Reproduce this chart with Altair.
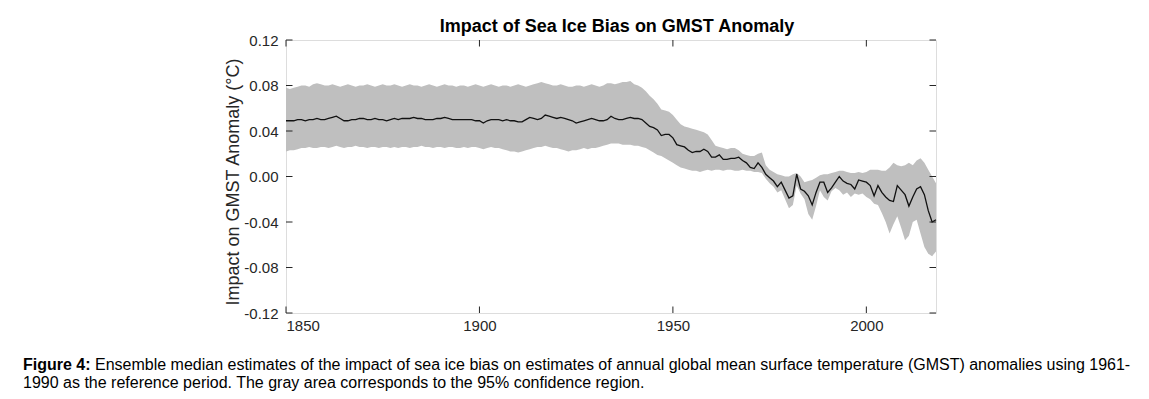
import altair as alt
import pandas as pd

years = list(range(1850, 2019))

median = [
    0.049, 0.049, 0.049, 0.050, 0.050, 0.049, 0.050, 0.050, 0.051, 0.050,
    0.050, 0.051, 0.052, 0.053, 0.051, 0.049, 0.049, 0.050, 0.050, 0.051,
    0.051, 0.050, 0.050, 0.051, 0.050, 0.050, 0.049, 0.050, 0.051, 0.050,
    0.051, 0.051, 0.051, 0.052, 0.051, 0.051, 0.050, 0.050, 0.050, 0.051,
    0.051, 0.052, 0.051, 0.050, 0.050, 0.050, 0.050, 0.050, 0.050, 0.049,
    0.049, 0.047, 0.049, 0.050, 0.050, 0.050, 0.049, 0.050, 0.049, 0.049,
    0.048, 0.048, 0.050, 0.052, 0.051, 0.050, 0.051, 0.054, 0.053, 0.052,
    0.051, 0.052, 0.051, 0.050, 0.049, 0.047, 0.048, 0.049, 0.050, 0.051,
    0.050, 0.049, 0.049, 0.050, 0.053, 0.051, 0.050, 0.050, 0.051, 0.052,
    0.051, 0.051, 0.050, 0.047, 0.044, 0.043, 0.041, 0.036, 0.037, 0.037,
    0.034, 0.028, 0.027, 0.026, 0.023, 0.021, 0.022, 0.022, 0.024, 0.022,
    0.017, 0.017, 0.019, 0.015, 0.015, 0.016, 0.016, 0.017, 0.014, 0.012,
    0.008, 0.007, 0.012, 0.008, 0.002, -0.001, -0.004, -0.009, -0.005, -0.012,
    -0.019, -0.017, 0.002, -0.011, -0.013, -0.017, -0.025, -0.014, -0.005, -0.005,
    -0.014, -0.010, -0.005, 0.000, -0.004, -0.006, -0.007, -0.011, -0.003, -0.004,
    -0.005, -0.008, -0.017, -0.008, -0.014, -0.018, -0.021, -0.022, -0.008, -0.012,
    -0.016, -0.026, -0.018, -0.011, -0.009, -0.016, -0.030, -0.040, -0.038,
]

upper = [
    0.078, 0.077, 0.078, 0.079, 0.080, 0.080, 0.079, 0.081, 0.082, 0.081,
    0.080, 0.080, 0.081, 0.080, 0.079, 0.080, 0.081, 0.080, 0.079, 0.080,
    0.080, 0.081, 0.080, 0.079, 0.080, 0.081, 0.080, 0.080, 0.081, 0.080,
    0.079, 0.080, 0.081, 0.080, 0.080, 0.079, 0.080, 0.081, 0.080, 0.079,
    0.080, 0.081, 0.080, 0.080, 0.079, 0.080, 0.080, 0.079, 0.080, 0.081,
    0.080, 0.079, 0.080, 0.081, 0.080, 0.079, 0.080, 0.080, 0.079, 0.080,
    0.081, 0.080, 0.079, 0.080, 0.081, 0.082, 0.083, 0.082, 0.081, 0.080,
    0.080, 0.081, 0.080, 0.079, 0.079, 0.080, 0.080, 0.079, 0.080, 0.081,
    0.080, 0.079, 0.080, 0.082, 0.082, 0.081, 0.082, 0.083, 0.083, 0.084,
    0.081, 0.080, 0.078, 0.075, 0.071, 0.068, 0.064, 0.059, 0.058, 0.057,
    0.054, 0.050, 0.046, 0.044, 0.043, 0.042, 0.041, 0.040, 0.039, 0.037,
    0.032, 0.027, 0.026, 0.025, 0.024, 0.025, 0.025, 0.023, 0.020, 0.019,
    0.018, 0.018, 0.020, 0.021, 0.010, 0.006, 0.004, 0.002, 0.001, 0.000,
    0.000, 0.002, 0.003, 0.000, -0.005, -0.004, -0.003, -0.001, 0.001, 0.002,
    0.002, 0.003, 0.004, 0.005, 0.005, 0.004, 0.003, 0.003, 0.004, 0.003,
    0.004, 0.006, 0.006, 0.006, 0.005, 0.005, 0.008, 0.012, 0.010, 0.009,
    0.010, 0.012, 0.010, 0.014, 0.016, 0.012, 0.006, 0.000, -0.006,
]

lower = [
    0.022, 0.023, 0.023, 0.024, 0.025, 0.025, 0.026, 0.025, 0.025, 0.026,
    0.026, 0.025, 0.026, 0.027, 0.026, 0.025, 0.026, 0.026, 0.027, 0.026,
    0.026, 0.025, 0.026, 0.026, 0.025, 0.026, 0.026, 0.025, 0.026, 0.025,
    0.026, 0.026, 0.025, 0.026, 0.026, 0.027, 0.026, 0.026, 0.025, 0.026,
    0.026, 0.025, 0.026, 0.026, 0.025, 0.025, 0.026, 0.025, 0.026, 0.026,
    0.025, 0.024, 0.025, 0.026, 0.025, 0.025, 0.024, 0.023, 0.022, 0.022,
    0.021, 0.022, 0.023, 0.024, 0.025, 0.026, 0.026, 0.027, 0.026, 0.025,
    0.025, 0.024, 0.023, 0.022, 0.023, 0.023, 0.024, 0.025, 0.024, 0.025,
    0.025, 0.026, 0.027, 0.028, 0.029, 0.029, 0.029, 0.028, 0.028, 0.028,
    0.027, 0.027, 0.026, 0.025, 0.023, 0.021, 0.019, 0.018, 0.016, 0.014,
    0.012, 0.010, 0.008, 0.007, 0.006, 0.005, 0.005, 0.004, 0.005, 0.006,
    0.005, 0.006, 0.006, 0.005, 0.006, 0.006, 0.005, 0.005, 0.006, 0.005,
    0.005, 0.004, 0.004, 0.003, -0.002, -0.006, -0.009, -0.014, -0.012, -0.020,
    -0.028, -0.025, -0.008, -0.015, -0.020, -0.033, -0.038, -0.026, -0.012, -0.018,
    -0.021, -0.013, -0.010, -0.012, -0.016, -0.014, -0.018, -0.015, -0.016, -0.015,
    -0.018, -0.020, -0.024, -0.025, -0.032, -0.040, -0.050, -0.042, -0.035, -0.045,
    -0.056, -0.052, -0.040, -0.038, -0.050, -0.062, -0.068, -0.070, -0.066,
]

x_ticks = [1850, 1900, 1950, 2000]
y_ticks = [-0.12, -0.08, -0.04, 0.0, 0.04, 0.08, 0.12]

title_text = "Impact of Sea Ice Bias on GMST Anomaly"
y_title = "Impact on GMST Anomaly (°C)"
caption_bold = "Figure 4:"
caption_line1 = ("Ensemble median estimates of the impact of sea ice bias on estimates of annual "
                 "global mean surface temperature (GMST) anomalies using 1961-")
caption_line2 = "1990 as the reference period. The gray area corresponds to the 95% confidence region."

W, H = 650, 273
FONT = "Liberation Sans"
AXC = "#262626"

df = pd.DataFrame({"year": years, "median": median, "upper": upper, "lower": lower})
xt = pd.DataFrame({"year": x_ticks})
yt = pd.DataFrame({"val": y_ticks})

xs = alt.Scale(domain=[1850, 2018], nice=False, zero=False)
ys = alt.Scale(domain=[-0.12, 0.12], nice=False, zero=False)

band = alt.Chart(df).mark_area(color="#bfbfbf", opacity=1).encode(
    x=alt.X("year:Q", scale=xs, axis=alt.Axis(
        values=x_ticks, format="d", title=None, ticks=False, domain=False, grid=False,
        labelFont=FONT, labelFontSize=15, labelColor=AXC, labelPadding=5)),
    y=alt.Y("lower:Q", scale=ys, axis=alt.Axis(
        values=y_ticks, title=None, ticks=False, domain=False, grid=False,
        labelExpr="datum.value < 0 ? '-' + format(abs(datum.value), '.2f') : format(datum.value, '.2f')",
        labelFont=FONT, labelFontSize=15, labelColor=AXC, labelPadding=8)),
    y2="upper:Q",
)

line = alt.Chart(df).mark_line(color="#111111", strokeWidth=1.3).encode(
    x=alt.X("year:Q", scale=xs),
    y=alt.Y("median:Q", scale=ys),
)

tick_len = 6.5
xb = alt.Chart(xt).mark_rule(color=AXC, strokeWidth=1).encode(
    x=alt.X("year:Q", scale=xs), y=alt.value(H), y2=alt.value(H - tick_len))
xtp = alt.Chart(xt).mark_rule(color=AXC, strokeWidth=1).encode(
    x=alt.X("year:Q", scale=xs), y=alt.value(0), y2=alt.value(tick_len))
yl = alt.Chart(yt).mark_rule(color=AXC, strokeWidth=1).encode(
    y=alt.Y("val:Q", scale=ys), x=alt.value(0), x2=alt.value(tick_len))
yr = alt.Chart(yt).mark_rule(color=AXC, strokeWidth=1).encode(
    y=alt.Y("val:Q", scale=ys), x=alt.value(W), x2=alt.value(W - tick_len))

one = pd.DataFrame({"t": [0]})

title = alt.Chart(one).mark_text(
    text=title_text, font=FONT, fontSize=18, fontWeight="bold", color="#000000",
    align="center", baseline="alphabetic").encode(x=alt.value(331), y=alt.value(-8))

ytitle = alt.Chart(one).mark_text(
    text=y_title, font=FONT, fontSize=18, color=AXC, angle=270,
    align="center", baseline="alphabetic").encode(x=alt.value(-47.5), y=alt.value(142))

cap_b = alt.Chart(one).mark_text(
    text=caption_bold, font=FONT, fontSize=16, fontWeight="bold", color="#000000",
    align="left", baseline="alphabetic").encode(x=alt.value(-263), y=alt.value(330))
cap_1 = alt.Chart(one).mark_text(
    text=caption_line1, font=FONT, fontSize=16, color="#000000",
    align="left", baseline="alphabetic").encode(x=alt.value(-191), y=alt.value(330))
cap_2 = alt.Chart(one).mark_text(
    text=caption_line2, font=FONT, fontSize=16, color="#000000",
    align="left", baseline="alphabetic").encode(x=alt.value(-263), y=alt.value(348))

chart = alt.layer(band, line, xb, xtp, yl, yr, title, ytitle, cap_b, cap_1, cap_2).properties(
    width=W, height=H,
    autosize=alt.AutoSizeParams(type="none"),
    padding={"left": 278, "top": 32, "right": 200, "bottom": 78},
).configure_view(stroke=AXC, strokeWidth=1.2).configure(background="white")

chart.save("out.html", embed_options={"renderer": "svg", "actions": False})
